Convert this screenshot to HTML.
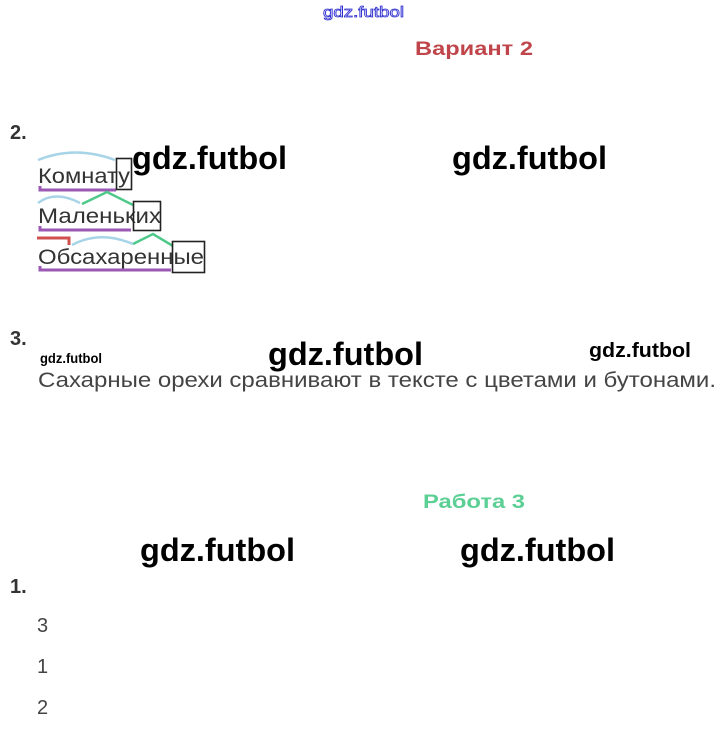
<!DOCTYPE html>
<html><head><meta charset="utf-8"><style>
html,body{margin:0;padding:0;background:#fff;}
svg{display:block}
</style></head><body>
<svg width="727" height="729" xmlns="http://www.w3.org/2000/svg" font-family="Liberation Sans, sans-serif">
<text x="323" y="17" font-size="15" fill="#fff" stroke="#3030d0" stroke-width="0.8" textLength="81" lengthAdjust="spacingAndGlyphs">gdz.futbol</text>
<text x="415" y="55" font-size="19" font-weight="bold" fill="#c0454a" textLength="118" lengthAdjust="spacingAndGlyphs">Вариант 2</text>

<text x="10" y="139" font-size="20" font-weight="bold" fill="#333">2.</text>
<path d="M38 160 Q75 145 115 160" fill="none" stroke="#a8d4e8" stroke-width="2.5"/>
<text x="38" y="183" font-size="21" fill="#333" textLength="92" lengthAdjust="spacingAndGlyphs">Комнату</text>
<path d="M40 186 V190 H116" fill="none" stroke="#9b59b6" stroke-width="3"/>
<rect x="116.5" y="158.5" width="15" height="31" fill="none" stroke="#222" stroke-width="1.6"/>
<path d="M38 203 Q55 190 80 203" fill="none" stroke="#a8d4e8" stroke-width="2.5"/>
<path d="M82 204 L107 192 L133 205" fill="none" stroke="#4fc98a" stroke-width="2.5"/>
<text x="38" y="223" font-size="21" fill="#333" textLength="123" lengthAdjust="spacingAndGlyphs">Маленьких</text>
<path d="M40 226 V230 H131" fill="none" stroke="#9b59b6" stroke-width="3"/>
<rect x="133.5" y="201.5" width="27" height="29" fill="none" stroke="#222" stroke-width="1.6"/>
<path d="M37 238 H69 V245" fill="none" stroke="#d05050" stroke-width="3"/>
<path d="M72 245 Q100 230 133 244" fill="none" stroke="#a8d4e8" stroke-width="2.5"/>
<path d="M133 244 L153 234 L173 246" fill="none" stroke="#4fc98a" stroke-width="2.5"/>
<text x="38" y="264" font-size="21" fill="#333" textLength="166" lengthAdjust="spacingAndGlyphs">Обсахаренные</text>
<path d="M40 266 V270 H171" fill="none" stroke="#9b59b6" stroke-width="3"/>
<rect x="172.5" y="241.5" width="32" height="31" fill="none" stroke="#222" stroke-width="1.6"/>

<g font-weight="bold" fill="#000">
<text x="132" y="169" font-size="32" textLength="155" lengthAdjust="spacingAndGlyphs">gdz.futbol</text>
<text x="452" y="169" font-size="32" textLength="155" lengthAdjust="spacingAndGlyphs">gdz.futbol</text>
</g>

<text x="10" y="345" font-size="20" font-weight="bold" fill="#333">3.</text>
<g font-weight="bold" fill="#000">
<text x="40" y="363" font-size="14" textLength="62" lengthAdjust="spacingAndGlyphs">gdz.futbol</text>
<text x="268" y="365" font-size="32" textLength="155" lengthAdjust="spacingAndGlyphs">gdz.futbol</text>
<text x="589" y="357" font-size="20" textLength="102" lengthAdjust="spacingAndGlyphs">gdz.futbol</text>
</g>
<text x="38" y="387" font-size="21" fill="#444" textLength="678" lengthAdjust="spacingAndGlyphs">Сахарные орехи сравнивают в тексте с цветами и бутонами.</text>

<text x="423" y="508" font-size="19" font-weight="bold" fill="#5ccf94" textLength="102" lengthAdjust="spacingAndGlyphs">Работа 3</text>
<g font-weight="bold" fill="#000">
<text x="140" y="561" font-size="32" textLength="155" lengthAdjust="spacingAndGlyphs">gdz.futbol</text>
<text x="460" y="561" font-size="32" textLength="155" lengthAdjust="spacingAndGlyphs">gdz.futbol</text>
</g>
<text x="10" y="593" font-size="20" font-weight="bold" fill="#333">1.</text>
<g font-size="20" fill="#444">
<text x="37" y="632">3</text>
<text x="37" y="673">1</text>
<text x="37" y="714">2</text>
</g>
</svg>
</body></html>
